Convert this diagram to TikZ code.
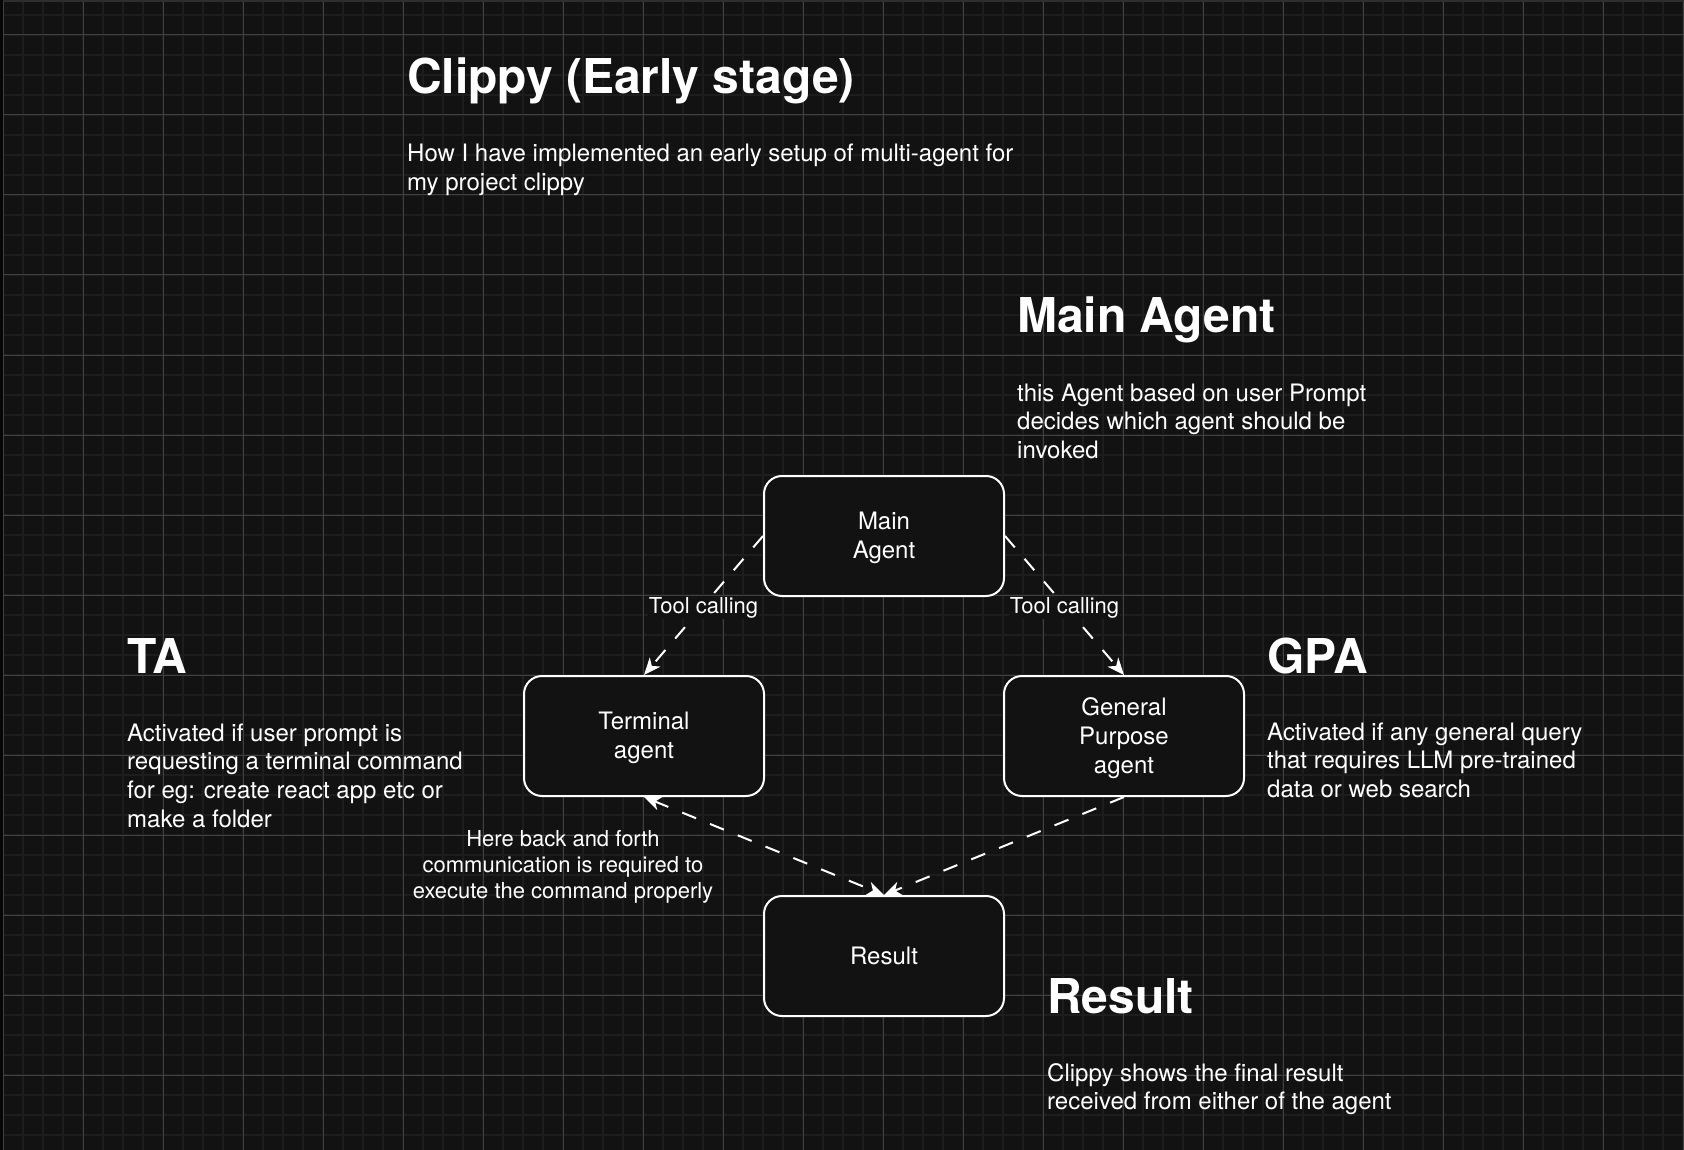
\documentclass[tikz,border=0pt]{standalone}
\usepackage{fontspec}
\setmainfont{TeX Gyre Heros}
\usetikzlibrary{arrows.meta}
\definecolor{bg}{HTML}{121212}
\definecolor{minorc}{HTML}{1D1D1D}
\definecolor{majorc}{HTML}{404040}
\definecolor{topc}{HTML}{2E2E2E}
\definecolor{leftc}{HTML}{060606}
\newcommand{\leftlines}[1]{\vtop{\halign{##\hfil\cr#1\crcr}}}
\newcommand{\midlines}[1]{\vtop{\halign{\hfil##\hfil\cr#1\crcr}}}
\newcommand{\dn}[1]{\raisebox{-2pt}[\height][\depth]{#1}}
\tikzset{
  minorline/.style={draw=minorc, line width=2pt},
  majorline/.style={draw=majorc, line width=1pt},
  head/.style={anchor=base west, inner sep=0pt, text=white, font=\fontsize{48}{57.6}\selectfont\bfseries},
  body/.style={anchor=base west, inner sep=0pt, text=white, font=\fontsize{24}{28.8}\selectfont},
  agent/.style={draw=white, line width=2pt, fill=bg, rounded corners=18pt,
    minimum width=240pt, minimum height=120pt, align=center, text=white,
    inner sep=0pt, font=\fontsize{24}{28.8}\selectfont},
  lbl/.style={fill=bg, inner sep=1pt, yshift=-2pt, text=white, font=\fontsize{22}{26.4}\selectfont},
  note/.style={anchor=base, inner sep=0pt, text=white, font=\fontsize{22}{26.4}\selectfont},
  conn/.style={draw=white, line width=2pt, dash pattern=on 15pt off 15pt},
  >={Stealth[length=17pt,width=14pt,inset=5pt]}
}
\begin{document}
\begin{tikzpicture}[x=1pt,y=-1pt]
\useasboundingbox (0,0) rectangle (1684,1150);
\fill[bg] (0,0) rectangle (1684,1150);
% grid
\foreach \i in {0,...,84} \draw[minorline] ({3.3+20*\i},0) -- ({3.3+20*\i},1150);
\foreach \i in {0,...,56} \draw[minorline] (0,{15+20*\i}) -- (1684,{15+20*\i});
\foreach \i in {0,...,21} \draw[majorline] ({3.3+80*\i},0) -- ({3.3+80*\i},1150);
\foreach \i in {0,...,13} \draw[majorline] (0,{35+80*\i}) -- (1684,{35+80*\i});
\fill[topc] (0,0) rectangle (1684,2);
\fill[leftc] (0,0) rectangle (3,1150);

% texts
\node[head] (title) at (407,94) {Clippy (Early stage)};
\node[body] (sub) at (407,162) {\leftlines{How I have implemented an early setup of multi-agent for\cr my project clippy}};

\node[head] (hmain) at (1017,333) {Main Agent};
\node[body] (bmain) at (1017,401) {\leftlines{this Agent based on user Prompt\cr decides which agent should be\cr invoked}};

\node[head] (hta) at (127,673) {TA};
\node[body] (bta) at (127,741) {\leftlines{Activated if user prompt is\cr requesting a terminal command\cr for eg: create react app etc or\cr make a folder}};

\node[head] (hgpa) at (1267,673) {GPA};
\node[body] (bgpa) at (1267,740) {\leftlines{Activated if any general query\cr that requires LLM pre-trained\cr data or web search}};

\node[head] (hres) at (1047,1013) {Result};
\node[body] (bres) at (1047,1081) {\leftlines{Clippy shows the final result\cr received from either of the agent}};

% boxes
\node[agent] (main) at (884,536) {\dn{Main}\\\dn{Agent}};
\node[agent] (term) at (644,736) {\dn{Terminal}\\\dn{agent}};
\node[agent] (gpa) at (1124,736) {\dn{General}\\\dn{Purpose}\\\dn{agent}};
\node[agent] (res) at (884,956) {Result};

% connectors
\draw[conn,->] (main.west) -- node[lbl] {Tool calling} (term.north);
\draw[conn,->] (main.east) -- node[lbl] {Tool calling} (gpa.north);
\draw[conn,<->] (term.south) -- (res.north);
\draw[conn,->] (gpa.south) -- (res.north);

\node[note] (tnote) at (563,846) {\midlines{Here back and forth\cr communication is required to\cr execute the command properly}};
\end{tikzpicture}
\end{document}
